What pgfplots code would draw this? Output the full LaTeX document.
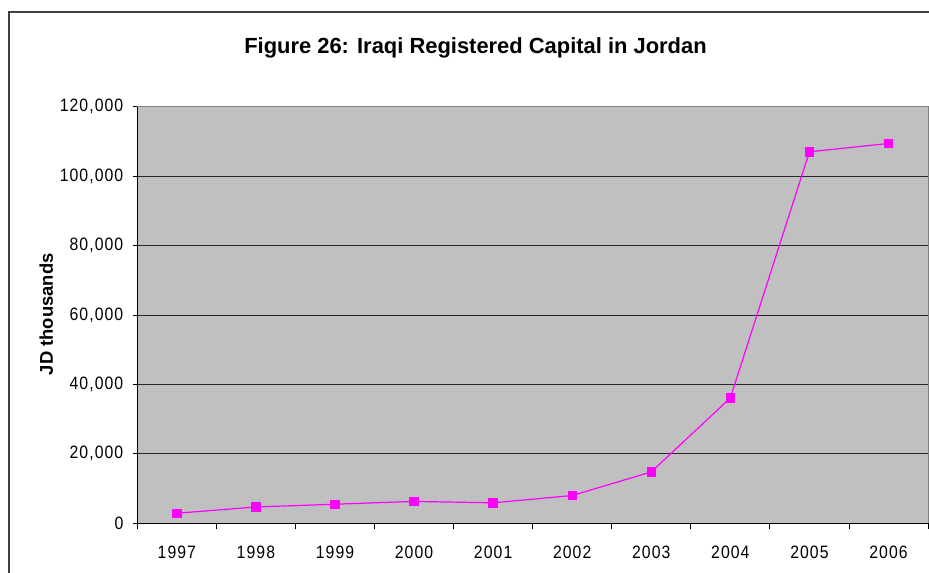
\documentclass[border=0pt]{standalone}
\usepackage{fontspec}
\setmainfont{Liberation Sans}
\usepackage{pgfplots}
\pgfplotsset{compat=1.18}
\definecolor{plotgrey}{RGB}{192,192,192}
\definecolor{edgegrey}{RGB}{128,128,128}
\definecolor{series}{RGB}{255,0,255}
\newcommand\ticklabelfont{\fontsize{18}{21}\selectfont\addfontfeature{FakeStretch=0.88,LetterSpace=6}}
\begin{document}
\begin{tikzpicture}[x=1bp,y=1bp]
\useasboundingbox (0,0) rectangle (929,573);
% outer chart frame
\draw[line width=1.3bp, black!75] (9,-30) rectangle (960,561);
\node[font=\bfseries\fontsize{22}{26}\selectfont, anchor=base] at (475.5,519.7) {Figure 26: Iraqi Registered Capital in Jordan};
\begin{axis}[
  at={(137.3bp,49.7bp)}, anchor=south west,
  scale only axis, width=790.7bp, height=416.6bp,
  axis background/.style={fill=plotgrey},
  axis lines=left, axis line style={-, line width=1bp, black},
  xmin=-0.5, xmax=9.5, ymin=0, ymax=120000,
  xtick={0,...,9},
  xticklabels={1997,1998,1999,2000,2001,2002,2003,2004,2005,2006},
  minor xtick={-0.5,0.5,...,9.5},
  ytick={0,20000,40000,60000,80000,100000,120000},
  yticklabels={0,{20,000},{40,000},{60,000},{80,000},{100,000},{120,000}},
  scaled y ticks=false,
  tick align=outside,
  major x tick style={draw=none},
  minor x tick style={black, line width=0.8bp},
  minor tick length=6bp,
  major tick length=4.5bp,
  y tick style={black, line width=0.8bp},
  ymajorgrids, major grid style={black!85, line width=0.8bp},
  tick label style={font=\ticklabelfont},
  xticklabel style={yshift=-14.5bp},
  yticklabel style={xshift=-6bp},
  ylabel={JD thousands},
  ylabel style={font=\bfseries\fontsize{18.5}{21}\selectfont, at={(axis description cs:-0.115,0.502)}, anchor=center},
  clip=false,
]
\draw[edgegrey, line width=1bp] (rel axis cs:0,1) -- (rel axis cs:1,1) -- (rel axis cs:1,0);
\addplot[series, line width=1.2bp, mark=square*, mark size=4.1bp, mark options={draw=series, fill=series}]
  coordinates {
    (0,2900) (1,4700) (2,5500) (3,6300) (4,5900)
    (5,8000) (6,14800) (7,36100) (8,107000) (9,109400)
  };
\end{axis}
\end{tikzpicture}
\end{document}
